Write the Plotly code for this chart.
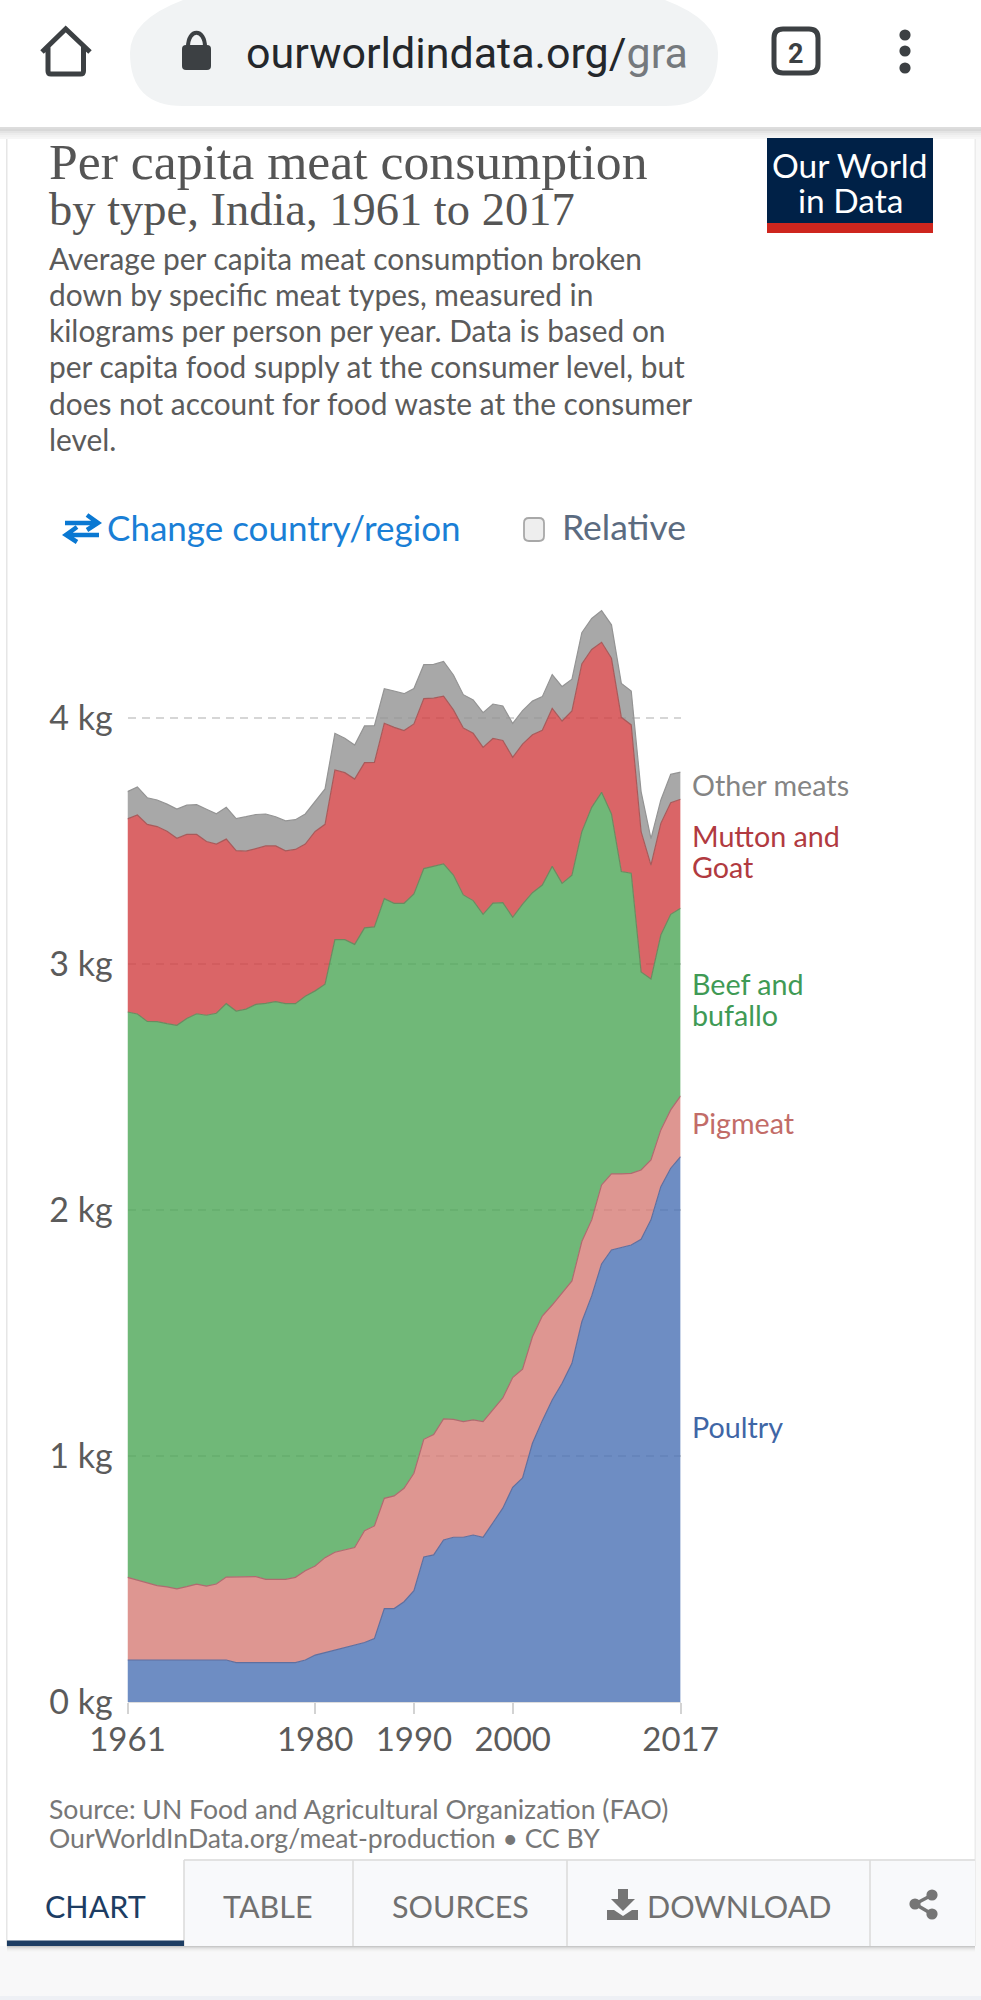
import plotly.graph_objects as go

W, H = 981, 2000

# ---------- data (kg per person per year) ----------
years = list(range(1961, 2018))
poultry = [0.172,0.172,0.172,0.172,0.172,0.172,0.172,0.172,0.172,0.172,0.172,0.161,0.161,0.161,0.161,0.161,0.161,0.161,0.172,0.192,
           0.202,0.213,0.222,0.232,0.243,0.259,0.381,0.381,0.409,0.454,0.591,0.599,0.660,0.671,0.671,0.680,0.671,0.730,0.789,0.874,
           0.912,1.053,1.145,1.229,1.297,1.378,1.547,1.652,1.782,1.839,1.848,1.859,1.882,1.961,2.096,2.171,2.218]
pigmeat = [.336,.324,.313,.302,.297,.289,.298,.308,.300,.309,.337,.348,.348,.350,.339,.339,.339,.347,.363,.362,
           .386,.397,.399,.397,.455,.458,.448,.458,.461,.477,.478,.489,.492,.479,.470,.468,.470,.461,.448,.446,
           .442,.433,.425,.386,.366,.335,.326,.309,.321,.309,.300,.291,.282,.244,.231,.237,.247]
beef = [2.298,2.302,2.283,2.293,2.290,2.291,2.310,2.319,2.321,2.320,2.331,2.301,2.309,2.326,2.341,2.348,2.340,2.332,2.335,2.338,
        2.331,2.490,2.479,2.452,2.450,2.435,2.438,2.409,2.378,2.355,2.320,2.310,2.256,2.213,2.141,2.111,2.062,2.058,2.014,1.871,
        1.891,1.805,1.752,1.783,1.666,1.649,1.666,1.677,1.596,1.463,1.229,1.220,0.805,0.735,0.792,0.795,0.763]
mutton = [.785,.809,.801,.793,.782,.760,.748,.729,.706,.688,.669,.652,.642,.634,.640,.633,.621,.627,.619,.648,
          .650,.690,.679,.672,.672,.669,.713,.715,.702,.691,.691,.684,.682,.671,.678,.680,.679,.669,.659,.650,
          .650,.642,.629,.642,.660,.668,.682,.642,.610,.633,.627,.603,.570,.463,.454,.454,.443]
other = [.111,.114,.108,.108,.110,.119,.119,.121,.131,.123,.129,.130,.140,.138,.130,.119,.122,.121,.122,.122,
         .144,.149,.140,.138,.149,.149,.140,.148,.150,.144,.138,.137,.141,.142,.136,.136,.141,.140,.140,.138,
         .136,.137,.137,.138,.140,.129,.127,.126,.129,.136,.138,.138,.163,.108,.095,.115,.110]

x_ticks = [1961, 1980, 1990, 2000, 2017]
y_ticks = [0, 1, 2, 3, 4]
y_tick_labels = ["0 kg", "1 kg", "2 kg", "3 kg", "4 kg"]

series = [
    ("Poultry", poultry, "rgba(74,113,180,0.8)", "#5f6f9f"),
    ("Pigmeat", pigmeat, "rgba(214,124,117,0.8)", "#b06a70"),
    ("Beef and bufallo", beef, "rgba(76,166,86,0.8)", "#6c8a60"),
    ("Mutton and Goat", mutton, "rgba(209,62,65,0.8)", "#a85a5a"),
    ("Other meats", other, "rgba(146,146,146,0.8)", "#949494"),
]

# ---------- pixel helpers ----------
def fx(x): return x / W
def fy(y): return 1 - y / H

shapes, annos = [], []

def rect(x0, y0, x1, y1, fill, layer="below"):
    shapes.append(dict(type="rect", xref="paper", yref="paper", x0=fx(x0), x1=fx(x1),
                       y0=fy(y0), y1=fy(y1), fillcolor=fill, line_width=0, layer=layer))

def path(cmds, fill=None, stroke=None, width=0, layer="above"):
    out = []
    for c in cmds:
        if c[0] == "Z":
            out.append("Z")
            continue
        vals = []
        for i in range(1, len(c), 2):
            vals.append(f"{fx(c[i]):.6f},{fy(c[i+1]):.6f}")
        out.append(c[0] + " ".join(vals))
    d = dict(type="path", xref="paper", yref="paper", path=" ".join(out), layer=layer,
             fillcolor=fill if fill else "rgba(0,0,0,0)")
    d["line"] = dict(color=stroke if stroke else "rgba(0,0,0,0)", width=width)
    shapes.append(d)

def rrect(x0, y0, x1, y1, r, **kw):
    path([("M", x0 + r, y0), ("L", x1 - r, y0), ("Q", x1, y0, x1, y0 + r), ("L", x1, y1 - r),
          ("Q", x1, y1, x1 - r, y1), ("L", x0 + r, y1), ("Q", x0, y1, x0, y1 - r), ("L", x0, y0 + r),
          ("Q", x0, y0, x0 + r, y0), ("Z",)], **kw)

def circle(cx, cy, r, fill, layer="above"):
    shapes.append(dict(type="circle", xref="paper", yref="paper", x0=fx(cx - r), x1=fx(cx + r),
                       y0=fy(cy + r), y1=fy(cy - r), fillcolor=fill, line_width=0, layer=layer))

def text(x, base, s, size, color, anchor="left", font="Lato"):
    annos.append(dict(x=fx(x), y=fy(base - 0.34 * size), xref="paper", yref="paper", text=s, showarrow=False,
                      xanchor=anchor, yanchor="middle", borderpad=0,
                      font=dict(family=font, size=size, color=color)))

# ---------- page chrome ----------
rect(0, 127, 7, 1996, "#ffffff")
rect(7, 127, 975, 1946, "#ffffff")
rect(975, 127, 981, 1946, "#f8f8f8")
rect(6, 127, 7.5, 1946, "#e6e6e6")
rect(974.5, 127, 976, 1946, "#ececec")
rect(0, 1946, 981, 2000, "#f8f8f9")
rect(0, 1996, 981, 2000, "#eef0f5")
for i, c in enumerate(["#c8c8c8", "#d8d8d8", "#e4e4e4", "#ececec", "#f2f2f2", "#f6f6f6"]):
    rect(7, 1946 + i, 975, 1947 + i, c)
    rect(0, 127 + 2 * i, 981, 129 + 2 * i, c.replace("#c8c8c8", "#dcdcdc"))

# browser bar
rect(0, 0, 981, 127, "#ffffff")
rect(0, 127, 981, 128, "#dddddd")
path([("M", 183, 0), ("L", 665, 0), ("Q", 718, 20, 718, 53), ("Q", 718, 106, 665, 106), ("L", 183, 106),
      ("Q", 130, 106, 130, 53), ("Q", 130, 20, 183, 0), ("Z",)], fill="#f1f3f4", layer="below")
path([("M", 42, 52), ("L", 65.7, 29), ("L", 90, 52), ("M", 48, 47), ("L", 48, 71), ("Q", 48, 74, 51, 74),
      ("L", 80.5, 74), ("Q", 83.5, 74, 83.5, 71), ("L", 83.5, 47)], stroke="#3c4043", width=5)
rrect(182, 45, 211, 70, 4, fill="#3c4043")
path([("M", 188, 47), ("C", 188, 28, 205, 28, 205, 47)], stroke="#3c4043", width=4)
text(245, 68, 'ourworldindata.org/<span style="color:#75797d">gra</span>', 43, "#24272b", font="Roboto")
rrect(774, 29, 818, 73, 9, stroke="#3c4043", width=5)
text(796, 63, "<b>2</b>", 27, "#3c4043", anchor="center", font="Roboto")
for cy in (35, 51, 68):
    circle(905, cy, 5.6, "#3c4043")

# logo
rect(767, 138, 933, 223, "#002147", layer="above")
rect(767, 223, 933, 233, "#ce261e", layer="above")
text(850, 176, "Our World", 33.5, "#ffffff", anchor="center")
text(850, 211, "in Data", 33.5, "#ffffff", anchor="center")

# title block
text(48, 179, "Per capita meat consumption", 51.7, "#555555", font="Liberation Serif")
text(48, 225, "by type, India, 1961 to 2017", 46.5, "#555555", font="Liberation Serif")
subtitle = ["Average per capita meat consumption broken",
            "down by specific meat types, measured in",
            "kilograms per person per year. Data is based on",
            "per capita food supply at the consumer level, but",
            "does not account for food waste at the consumer",
            "level."]
for i, line in enumerate(subtitle):
    text(48, 268 + 36.2 * i, line, 29.9, "#5b5b5b")

# controls
path([("M", 65, 523), ("L", 98, 523), ("M", 87, 515), ("L", 98, 523), ("L", 87, 530)], stroke="#0a78d2", width=4.5)
path([("M", 99, 535), ("L", 66, 535), ("M", 77, 527), ("L", 66, 535), ("L", 77, 542)], stroke="#0a78d2", width=4.5)
text(106, 539, "Change country/region", 35, "#1a7fd6")
rrect(524, 518, 544, 541, 5, fill="#eeeeee", stroke="#a8a8a8", width=1.8)
text(561, 539, "Relative", 35.5, "#5b6b80")

# series labels
LBL = 28.7
text(691, 795, "Other meats", LBL, "#848484")
text(691, 846, "Mutton and", LBL, "#b13a40")
text(691, 877, "Goat", LBL, "#b13a40")
text(691, 994, "Beef and", LBL, "#3f9a55")
text(691, 1025, "bufallo", LBL, "#3f9a55")
text(691, 1133, "Pigmeat", LBL, "#c26c68")
text(691, 1437, "Poultry", LBL, "#3f66a6")

# source
text(48, 1818, "Source: UN Food and Agricultural Organization (FAO)", 26.6, "#777777")
text(48, 1847, "OurWorldInData.org/meat-production • CC BY", 26.6, "#777777")

# tabs
rect(184, 1860, 975, 1946, "#f8f9fb")
rect(184, 1859, 975, 1861, "#e2e2e2")
for dx in (184, 353, 567, 870):
    rect(dx - 0.8, 1860, dx + 0.8, 1946, "#dcdcdc")
rect(7, 1940.5, 184, 1946, "#1d3d63")
TAB = 30.5
text(95, 1916, "CHART", TAB, "#1d3d63", anchor="center")
text(268, 1916, "TABLE", TAB, "#707070", anchor="center")
text(460, 1916, "SOURCES", TAB, "#707070", anchor="center")
text(739, 1916, "DOWNLOAD", TAB, "#707070", anchor="center")
path([("M", 618, 1889), ("L", 628, 1889), ("L", 628, 1899), ("L", 635, 1899), ("L", 623, 1911), ("L", 611, 1899),
      ("L", 618, 1899), ("Z",)], fill="#757575")
path([("M", 607, 1910), ("L", 614, 1910), ("L", 623, 1916), ("L", 632, 1910), ("L", 638, 1910), ("L", 638, 1920),
      ("L", 607, 1920), ("Z",)], fill="#757575")
path([("M", 932, 1895), ("L", 915, 1904), ("L", 932, 1914)], stroke="#757575", width=3.5)
for sx, sy in ((932, 1895), (915, 1904), (932, 1914)):
    circle(sx, sy, 5.6, "#757575")

# ---------- chart ----------
fig = go.Figure()
for name, vals, fill, line in series:
    fig.add_trace(go.Scatter(x=years, y=vals, name=name, mode="lines", stackgroup="one",
                             line=dict(color=line, width=1.2, shape="linear"), fillcolor=fill,
                             hoverinfo="skip"))

Y0, PX_PER_KG = 1702.3, 246.0
YMAX = 4.55
fig.update_layout(
    width=W, height=H, margin=dict(l=0, r=0, t=0, b=0, pad=0), autosize=False,
    paper_bgcolor="#ffffff", plot_bgcolor="rgba(0,0,0,0)", showlegend=False,
    font=dict(family="Lato"), shapes=shapes, annotations=annos,
    xaxis=dict(domain=[127.5 / W, 680.6 / W], range=[1961, 2017], tickmode="array", tickvals=x_ticks,
               automargin=False,
               ticks="outside", ticklen=11, tickcolor="#d3d3d3", tickwidth=1.5, showgrid=False, zeroline=False,
               showline=True, linecolor="#dddddd", linewidth=1, ticklabelstandoff=-3,
               tickfont=dict(family="Lato", size=33, color="#5b5b5b")),
    yaxis=dict(domain=[1 - Y0 / H, 1 - (Y0 - YMAX * PX_PER_KG) / H], range=[0, YMAX], tickmode="array",
               automargin=False,
               tickvals=y_ticks, ticktext=y_tick_labels, ticks="outside", ticklen=7, tickcolor="rgba(0,0,0,0)",
               showgrid=True, gridcolor="#d6d6d6", griddash="8px,6px", gridwidth=1.5, zeroline=False, showline=False,
               tickfont=dict(family="Lato", size=34, color="#5b5b5b")),
)

fig.write_html("out.html", config=dict(displayModeBar=False),
               post_script="document.body.style.margin='0';document.documentElement.style.overflow='hidden';")
